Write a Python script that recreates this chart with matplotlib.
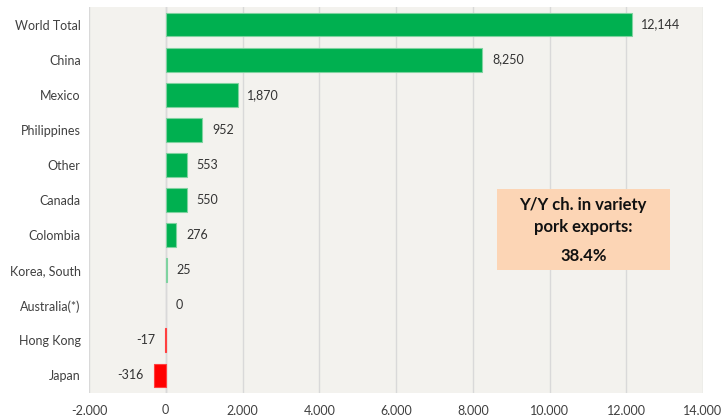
import matplotlib.pyplot as plt
from matplotlib.patches import Rectangle

countries = ["World Total", "China", "Mexico", "Philippines", "Other", "Canada",
             "Colombia", "Korea, South", "Australia(*)", "Hong Kong", "Japan"]
values = [12144, 8250, 1870, 952, 553, 550, 276, 25, 0, -17, -316]
labels = ["12,144", "8,250", "1,870", "952", "553", "550", "276", "25", "0", "-17", "-316"]
xticks = list(range(-2000, 14001, 2000))

plt.rcParams['font.family'] = ['Lato', 'DejaVu Sans']

fig = plt.figure(figsize=(7.23, 4.15), dpi=100)
ax = fig.add_axes([89 / 723, 22 / 415, 614 / 723, 386 / 415])
ax.set_facecolor("#F3F2EE")

ypos = list(range(len(countries)))
colors = ["#00B050" if v >= 0 else "#FF0000" for v in values]
# faint edge like the original, none on the empty bar
edges = ["none" if v == 0 else ("#7FD3A0" if v > 0 else "#FF4040") for v in values]
ax.barh(ypos, values, height=0.68, color=colors, edgecolor=edges, linewidth=0.8, zorder=3)

for y, v, lab in zip(ypos, values, labels):
    if v < 0:
        ax.text(v - 250, y, lab, ha="right", va="center", fontsize=9, color="#333333")
    else:
        ax.text(v + 250, y, lab, ha="left", va="center", fontsize=9, color="#333333")

ax.set_xlim(-2000, 14000)
ax.set_ylim(len(countries) - 0.5, -0.5)
ax.set_yticks(ypos)
ax.set_yticklabels(countries, fontsize=9, color="#404040")
ax.set_xticks(xticks)
ax.set_xticklabels([f"{t:,}" for t in xticks], fontsize=9, color="#404040")
ax.tick_params(length=0, pad=8)
ax.tick_params(axis="y", pad=6)
ax.grid(axis="x", color="#D9D9D9", linewidth=1, zorder=0)
ax.axvline(0, color="#D0D0D0", linewidth=1, zorder=1)
for s in ax.spines.values():
    s.set_visible(False)

# annotation box
box = Rectangle((0.665, 0.319), 0.281, 0.209, transform=ax.transAxes,
                facecolor="#FCD5B5", edgecolor="none", zorder=4)
ax.add_patch(box)
for ty, txt in [(0.487, "Y/Y ch. in variety"), (0.430, "pork exports:"), (0.355, "38.4%")]:
    ax.text(0.805, ty, txt, transform=ax.transAxes, ha="center", va="center",
            fontsize=12, fontweight="bold", color="#111111", zorder=5)

fig.savefig("out.png", dpi=100)
